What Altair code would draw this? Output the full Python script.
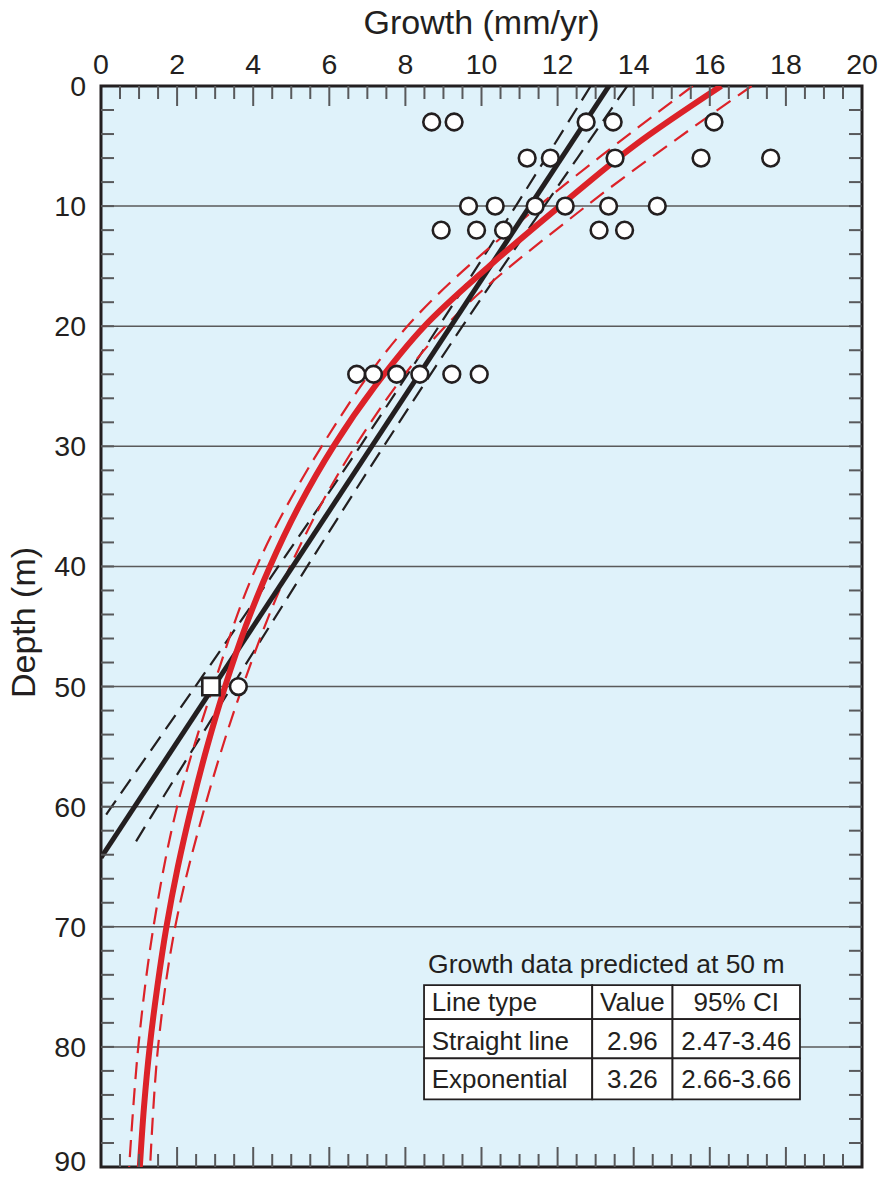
import altair as alt
import pandas as pd

# ---------------- data ----------------
# observed growth points (depth in m, growth in mm/yr)
PT_DEPTH = [3, 3, 3, 3, 3,
            6, 6, 6, 6, 6,
            10, 10, 10, 10, 10, 10,
            12, 12, 12, 12, 12,
            24, 24, 24, 24, 24, 24,
            50]
PT_GROWTH = [8.69, 9.28, 12.75, 13.46, 16.11,
             11.20, 11.81, 13.51, 15.77, 17.60,
             9.66, 10.36, 11.41, 12.20, 13.34, 14.62,
             8.94, 9.87, 10.58, 13.09, 13.76,
             6.72, 7.16, 7.77, 8.38, 9.22, 9.94,
             3.61]
# predicted value at 50 m (square)
SQ_DEPTH = [50]
SQ_GROWTH = [2.89]

# straight-line fit and its 95% band
LIN_DEPTH = [0, 64.25]
LIN_GROWTH = [13.35, 0.0]
LIN_LO_DEPTH = [0, 10, 20, 30, 40, 50, 60, 61.3]
LIN_LO = [12.87, 10.90, 8.88, 6.81, 4.66, 2.48, 0.28, 0.0]
LIN_HI_DEPTH = [0, 10, 20, 30, 40, 50, 60, 63]
LIN_HI = [13.83, 11.65, 9.50, 7.43, 5.42, 3.44, 1.48, 0.90]

# exponential fit and its 95% band
EXP_DEPTH = [0, 5, 10, 15, 20, 25, 30, 35, 40, 45, 50, 55, 60, 65, 70, 75, 80, 85, 90]
EXP_GROWTH = [16.3, 14.0, 12.06, 10.2, 8.5, 7.2, 6.11, 5.2, 4.44, 3.8, 3.26, 2.79,
              2.38, 2.02, 1.72, 1.48, 1.28, 1.13, 1.02]
EXP_CI_DEPTH = [0, 10, 20, 30, 40, 50, 60, 70, 80, 90]
EXP_LO = [15.55, 11.5, 8.05, 5.80, 4.09, 2.95, 2.0, 1.38, 0.98, 0.74]
EXP_HI = [17.1, 12.75, 9.05, 6.68, 4.97, 3.72, 2.73, 1.95, 1.5, 1.29]

# table
TABLE_TITLE = "Growth data predicted at 50 m"
TABLE_HEADER = ["Line type", "Value", "95% CI"]
TABLE_ROWS = [["Straight line", "2.96", "2.47-3.46"],
              ["Exponential", "3.26", "2.66-3.66"]]

X_TITLE = "Growth (mm/yr)"
Y_TITLE = "Depth (m)"
X_LABELS = list(range(0, 21, 2))
Y_LABELS = list(range(0, 91, 10))
GRID_DEPTHS = list(range(10, 81, 10))

# ---------------- layout / style ----------------
W, H = 761, 1081
BLACK = "#231f20"
RED = "#dc2228"
BG = "#dff2fa"
TICK = "#58595b"
GRID = "#5a5a5a"
FONT = "Liberation Sans"

COL_EDGES = [8.49, 12.91, 15.02, 18.37]
ROW_EDGES = [74.85, 77.69, 80.96, 84.37]
ROW_BASE = [77.0, 80.27, 83.46]
TITLE_POS = (13.28, 73.88)
COL1_X = 8.69

xs = alt.Scale(domain=[0, 20], nice=False, zero=False)
ys = alt.Scale(domain=[0, 90], nice=False, zero=False, reverse=True)


def X(field):
    return alt.X(field, scale=xs, axis=None)


def Y(field):
    return alt.Y(field, scale=ys, axis=None)


def curve(depths, vals):
    return pd.DataFrame({"depth": depths, "growth": vals})


def line_layer(df, color, width, dash=None):
    kw = dict(color=color, strokeWidth=width, clip=True, interpolate="catmull-rom")
    if dash:
        kw["strokeDash"] = dash
    return alt.Chart(df).mark_line(**kw).encode(
        x=X("growth:Q"), y=Y("depth:Q"), order=alt.Order("depth:Q"))


# grid lines
grid = alt.Chart(pd.DataFrame({"d": GRID_DEPTHS})).mark_rule(
    color=GRID, strokeWidth=1.5).encode(y=Y("d:Q"), x=alt.value(0), x2=alt.value(W))

# axis labels and titles (drawn as text)
xlab = alt.Chart(pd.DataFrame({"g": X_LABELS})).mark_text(
    baseline="alphabetic", align="center", fontSize=28.5, font=FONT, color=BLACK).encode(
    x=X("g:Q"), y=alt.value(-12), text="g:Q")


def ylab_layer(vals, dy):
    return alt.Chart(pd.DataFrame({"d": vals})).mark_text(
        baseline="middle", align="right", fontSize=28.5, font=FONT, color=BLACK, dy=dy).encode(
        y=Y("d:Q"), x=alt.value(-15), text="d:Q")


ylab = ylab_layer(Y_LABELS[:-1], 1)
ylab_last = ylab_layer(Y_LABELS[-1:], -5)   # kept inside the page edge

xtitle = alt.Chart(pd.DataFrame({"t": [X_TITLE]})).mark_text(
    baseline="alphabetic", align="center", fontSize=34, font=FONT, color=BLACK).encode(
    x=alt.value(W / 2), y=alt.value(-52), text="t:N")
ytitle = alt.Chart(pd.DataFrame({"t": [Y_TITLE]})).mark_text(
    baseline="alphabetic", align="center", fontSize=34, font=FONT, color=BLACK,
    angle=270).encode(x=alt.value(-66), y=alt.value(H / 2 - 4), text="t:N")

# inward ticks
x_major = [v for v in range(2, 20, 2)]
x_minor = [v / 2 for v in range(1, 40) if v % 4 != 0]
y_minor = [v for v in range(2, 90, 2)]


def xtick(vals, y0, y1):
    return alt.Chart(pd.DataFrame({"g": vals})).mark_rule(color=TICK, strokeWidth=2).encode(
        x=X("g:Q"), y=alt.value(y0), y2=alt.value(y1))


def ytick(vals, x0, x1):
    return alt.Chart(pd.DataFrame({"d": vals})).mark_rule(color=TICK, strokeWidth=2).encode(
        y=Y("d:Q"), x=alt.value(x0), x2=alt.value(x1))


ticks = [
    xtick(x_major, 0, 20), xtick(x_minor, 0, 13),
    xtick(x_major, H, H - 20), xtick(x_minor, H, H - 13),
    ytick(y_minor, 0, 13), ytick(y_minor, W, W - 13),
]

lines = [
    line_layer(curve(LIN_LO_DEPTH, LIN_LO), BLACK, 2.2, [17, 9]),
    line_layer(curve(LIN_HI_DEPTH, LIN_HI), BLACK, 2.2, [17, 9]),
    line_layer(curve(EXP_CI_DEPTH, EXP_LO), RED, 2.2, [17, 9]),
    line_layer(curve(EXP_CI_DEPTH, EXP_HI), RED, 2.2, [17, 9]),
    line_layer(curve(LIN_DEPTH, LIN_GROWTH), BLACK, 5),
    line_layer(curve(EXP_DEPTH, EXP_GROWTH), RED, 6),
]

pts = alt.Chart(curve(PT_DEPTH, PT_GROWTH)).mark_point(
    shape="circle", filled=True, fill="white", stroke=BLACK, strokeWidth=2.6,
    size=280, opacity=1).encode(x=X("growth:Q"), y=Y("depth:Q"))

sq = alt.Chart(curve(SQ_DEPTH, SQ_GROWTH)).mark_point(
    shape="square", filled=True, fill="white", stroke=BLACK, strokeWidth=2.6,
    size=300, opacity=1).encode(x=X("growth:Q"), y=Y("depth:Q"))

# table
cells = []
for r in range(3):
    for c in range(3):
        cells.append({"x": COL_EDGES[c], "x2": COL_EDGES[c + 1],
                      "y": ROW_EDGES[r], "y2": ROW_EDGES[r + 1]})
cell_layer = alt.Chart(pd.DataFrame(cells)).mark_rect(
    fill="white", stroke=BLACK, strokeWidth=1.8).encode(
    x=X("x:Q"), x2="x2:Q", y=Y("y:Q"), y2="y2:Q")

all_rows = [TABLE_HEADER] + TABLE_ROWS
left_txt = pd.DataFrame({"x": [COL1_X] * 3, "y": ROW_BASE, "t": [r[0] for r in all_rows]})
ctr_txt = pd.DataFrame({
    "x": [(COL_EDGES[1] + COL_EDGES[2]) / 2] * 3 + [(COL_EDGES[2] + COL_EDGES[3]) / 2] * 3,
    "y": ROW_BASE * 2,
    "t": [r[1] for r in all_rows] + [r[2] for r in all_rows]})
title_txt = pd.DataFrame({"x": [TITLE_POS[0]], "y": [TITLE_POS[1]], "t": [TABLE_TITLE]})


def text_layer(df, align, size):
    return alt.Chart(df).mark_text(align=align, baseline="alphabetic", fontSize=size,
                                   font=FONT, color=BLACK).encode(
        x=X("x:Q"), y=Y("y:Q"), text="t:N")


table = [cell_layer, text_layer(left_txt, "left", 26), text_layer(ctr_txt, "center", 26),
         text_layer(title_txt, "center", 26.5)]

chart = alt.layer(grid, *lines, *ticks, pts, sq, *table,
                  xlab, ylab, ylab_last, xtitle, ytitle).properties(
    width=W, height=H,
    background="white",
    autosize=alt.AutoSizeParams(type="none"),
    padding={"left": 93, "top": 78, "right": 16, "bottom": 5},
).configure_view(fill=BG, stroke=BLACK, strokeWidth=3)

chart.save("out.html", embed_options={"renderer": "svg", "actions": False})
